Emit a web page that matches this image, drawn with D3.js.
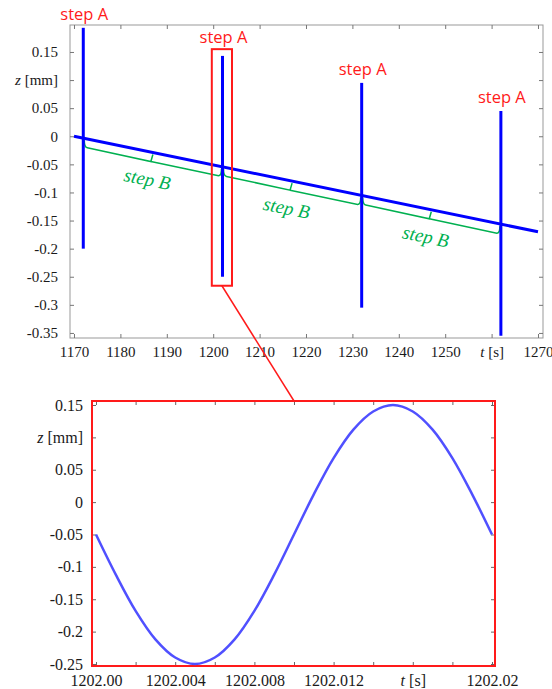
<!DOCTYPE html>
<html>
<head>
<meta charset="utf-8">
<script src="https://cdn.jsdelivr.net/npm/d3@7"></script>
<style>
  body { margin: 0; background: #fff; }
  svg { display: block; }
</style>
</head>
<body>
<div id="chart"></div>
<script>
// drift line (top chart)
const driftT = [1170, 1270];
const driftZ = [0, -0.17];

// step A spikes
const stepATimes = [1172, 1202, 1232, 1262];
const stepATop = [0.193, 0.143, 0.095, 0.045];
const stepABottom = [-0.2, -0.25, -0.305, -0.355];

// zoom box around second spike
const zoomBoxT = [1199.7, 1204.05];
const zoomBoxZ = [0.155, -0.266];

// tick values / labels, top chart
const topXTicks = [1170, 1180, 1190, 1200, 1210, 1220, 1230, 1240, 1250, 1260, 1270];
const topXLabels = ['1170', '1180', '1190', '1200', '1210', '1220', '1230', '1240', '1250', 't|[s]', '1270'];
const topYTicks = [0.15, 0.1, 0.05, 0, -0.05, -0.1, -0.15, -0.2, -0.25, -0.3, -0.35];
const topYLabels = ['0.15', 'z|[mm]', '0.05', '0', '-0.05', '-0.1', '-0.15', '-0.2', '-0.25', '-0.3', '-0.35'];

// zoomed curve (bottom chart)
const zoomT = [1202.000, 1202.001, 1202.002, 1202.003, 1202.004, 1202.005, 1202.006, 1202.007,
  1202.008, 1202.009, 1202.010, 1202.011, 1202.012, 1202.013, 1202.014, 1202.015, 1202.016,
  1202.017, 1202.018, 1202.019, 1202.020];
const zoomZ = [-0.05, -0.112, -0.168, -0.212, -0.24, -0.25, -0.24, -0.212, -0.168, -0.112,
  -0.05, 0.012, 0.068, 0.112, 0.14, 0.15, 0.14, 0.112, 0.068, 0.012, -0.05];

const botXTicks = [1202.000, 1202.002, 1202.004, 1202.006, 1202.008, 1202.010, 1202.012,
  1202.014, 1202.016, 1202.018, 1202.020];
const botXLabels = ['1202.00', '', '1202.004', '', '1202.008', '', '1202.012', '', 't|[s]', '', '1202.02'];
const botYTicks = [0.15, 0.1, 0.05, 0, -0.05, -0.1, -0.15, -0.2, -0.25];
const botYLabels = ['0.15', 'z|[mm]', '0.05', '0', '-0.05', '-0.1', '-0.15', '-0.2', '-0.25'];

const W = 552, H = 689;
const serif = '"Liberation Serif", "Times New Roman", serif';
const sans = '"Open Sans", "Noto Sans", sans-serif';
const blue = '#0000ff';
const red = '#ff1a1a';
const green = '#00b050';

const svg = d3.select('#chart').append('svg').attr('width', W).attr('height', H);

// label with italic variable name, e.g. "z|[mm]"
function fancyLabel(sel, labels) {
  sel.each(function(d, i) {
    const lab = labels[i];
    const t = d3.select(this);
    if (lab.indexOf('|') < 0) { t.text(lab); return; }
    const parts = lab.split('|');
    t.text(null);
    t.append('tspan').style('font-style', 'italic').text(parts[0]);
    t.append('tspan').text(' ' + parts[1]);
  });
}

function styleAxis(g, tickColor, size) {
  g.attr('font-family', null).attr('font-size', null);
  g.select('.domain').remove();
  g.selectAll('.tick line').attr('stroke', tickColor);
  g.selectAll('.tick text')
    .attr('fill', '#1a1a1a')
    .style('font-family', serif)
    .style('font-size', size + 'px');
}

// ---------- top chart ----------
const box1 = { left: 70, top: 25, right: 543, bottom: 338 };
const x1 = d3.scaleLinear().domain([1169.138, 1271.078]).range([box1.left, box1.right]);
const y1 = d3.scaleLinear().domain([0.198, -0.359]).range([box1.top, box1.bottom]);

const g1 = svg.append('g');

g1.append('rect')
  .attr('x', box1.left).attr('y', box1.top)
  .attr('width', box1.right - box1.left).attr('height', box1.bottom - box1.top)
  .attr('fill', 'none').attr('stroke', '#999').attr('stroke-width', 1);

g1.append('g')
  .attr('transform', `translate(0,${box1.bottom})`)
  .call(d3.axisBottom(x1).tickValues(topXTicks).tickSizeInner(-4).tickSizeOuter(0).tickPadding(8))
  .call(g => styleAxis(g, '#777', 15))
  .call(g => fancyLabel(g.selectAll('.tick text'), topXLabels));

g1.append('g')
  .attr('transform', `translate(0,${box1.top})`)
  .call(d3.axisTop(x1).tickValues(topXTicks).tickSizeInner(-4).tickSizeOuter(0).tickFormat(''))
  .call(g => styleAxis(g, '#777', 15));

g1.append('g')
  .attr('transform', `translate(${box1.left},0)`)
  .call(d3.axisLeft(y1).tickValues(topYTicks).tickSizeInner(-4).tickSizeOuter(0).tickPadding(12))
  .call(g => styleAxis(g, '#777', 15))
  .call(g => fancyLabel(g.selectAll('.tick text'), topYLabels));

g1.append('g')
  .attr('transform', `translate(${box1.right},0)`)
  .call(d3.axisRight(y1).tickValues(topYTicks).tickSizeInner(-4).tickSizeOuter(0).tickFormat(''))
  .call(g => styleAxis(g, '#777', 15));

// drift line
const driftAt = d3.scaleLinear().domain(driftT).range(driftZ);

// step B braces (between successive step A spikes)
const off = 9;
const ang = Math.atan2(y1(driftZ[1]) - y1(driftZ[0]), x1(driftT[1]) - x1(driftT[0]));
const stepBPairs = d3.pairs(stepATimes);

stepBPairs.forEach(([ta, tb]) => {
  const xa = x1(ta), ya = y1(driftAt(ta));
  const xb = x1(tb), yb = y1(driftAt(tb));
  const tm = (ta + tb) / 2;
  const xm = x1(tm), ym = y1(driftAt(tm));
  const p = d3.path();
  p.moveTo(xa + 1, ya + 2);
  p.quadraticCurveTo(xa + 1, ya + off, xa + 4, ya + off + 0.6);
  p.lineTo(xm - 2, ym + off);
  p.lineTo(xm, ym + off - 7);
  p.moveTo(xm - 2, ym + off);
  p.lineTo(xb - 4, yb + off);
  p.quadraticCurveTo(xb - 1, yb + off, xb - 1, yb + 2);
  g1.append('path').attr('d', p.toString())
    .attr('fill', 'none').attr('stroke', green).attr('stroke-width', 1.5);

  const d = 27;
  const lx = xm - Math.sin(ang) * d;
  const ly = ym + Math.cos(ang) * d;
  g1.append('text')
    .attr('transform', `translate(${lx},${ly}) rotate(${ang * 180 / Math.PI})`)
    .attr('text-anchor', 'middle').attr('dy', '0.35em')
    .style('font-family', serif).style('font-style', 'italic')
    .style('font-size', '19px').attr('fill', green)
    .text('step B');
});

g1.append('line')
  .attr('x1', x1(driftT[0])).attr('y1', y1(driftZ[0]))
  .attr('x2', x1(driftT[1])).attr('y2', y1(driftZ[1]))
  .attr('stroke', blue).attr('stroke-width', 3);

// step A spikes
g1.selectAll('.spike')
  .data(stepATimes)
  .enter()
  .append('line')
  .attr('class', 'spike')
  .attr('x1', d => x1(d)).attr('x2', d => x1(d))
  .attr('y1', (d, i) => y1(stepATop[i]))
  .attr('y2', (d, i) => y1(stepABottom[i]))
  .attr('stroke', blue).attr('stroke-width', 3);

// zoom box
g1.append('rect')
  .attr('x', x1(zoomBoxT[0])).attr('y', y1(zoomBoxZ[0]))
  .attr('width', x1(zoomBoxT[1]) - x1(zoomBoxT[0]))
  .attr('height', y1(zoomBoxZ[1]) - y1(zoomBoxZ[0]))
  .attr('fill', 'none').attr('stroke', red).attr('stroke-width', 2);

// step A labels
g1.selectAll('.stepA')
  .data(stepATimes)
  .enter()
  .append('text')
  .attr('class', 'stepA')
  .attr('x', d => x1(d) + 1)
  .attr('y', (d, i) => {
    const topY = (d > zoomBoxT[0] && d < zoomBoxT[1]) ? y1(zoomBoxZ[0]) + 2 : y1(stepATop[i]);
    return topY - 8;
  })
  .attr('text-anchor', 'middle')
  .style('font-family', sans).style('font-size', '16.5px').attr('fill', red)
  .text('step A');

// ---------- bottom chart ----------
const box2 = { left: 92, top: 401, right: 495, bottom: 666 };
const x2 = d3.scaleLinear().domain([1201.999798, 1202.020152]).range([box2.left, box2.right]);
const y2 = d3.scaleLinear().domain([0.15618, -0.2531]).range([box2.top, box2.bottom]);

// connector from zoom box to bottom chart
svg.append('line')
  .attr('x1', x1((zoomBoxT[0] + zoomBoxT[1]) / 2)).attr('y1', y1(zoomBoxZ[1]))
  .attr('x2', x2((zoomT[0] + zoomT[zoomT.length - 1]) / 2)).attr('y2', box2.top)
  .attr('stroke', red).attr('stroke-width', 1.5);

const g2 = svg.append('g');

g2.append('g')
  .attr('transform', `translate(0,${box2.bottom})`)
  .call(d3.axisBottom(x2).tickValues(botXTicks).tickSizeInner(-4).tickSizeOuter(0).tickPadding(9))
  .call(g => styleAxis(g, '#666', 16))
  .call(g => fancyLabel(g.selectAll('.tick text'), botXLabels));

g2.append('g')
  .attr('transform', `translate(0,${box2.top})`)
  .call(d3.axisTop(x2).tickValues(botXTicks).tickSizeInner(-4).tickSizeOuter(0).tickFormat(''))
  .call(g => styleAxis(g, '#666', 16));

g2.append('g')
  .attr('transform', `translate(${box2.left},0)`)
  .call(d3.axisLeft(y2).tickValues(botYTicks).tickSizeInner(-4).tickSizeOuter(0).tickPadding(9))
  .call(g => styleAxis(g, '#666', 16))
  .call(g => fancyLabel(g.selectAll('.tick text'), botYLabels));

g2.append('g')
  .attr('transform', `translate(${box2.right},0)`)
  .call(d3.axisRight(y2).tickValues(botYTicks).tickSizeInner(-4).tickSizeOuter(0).tickFormat(''))
  .call(g => styleAxis(g, '#666', 16));

g2.append('rect')
  .attr('x', box2.left).attr('y', box2.top)
  .attr('width', box2.right - box2.left).attr('height', box2.bottom - box2.top)
  .attr('fill', 'none').attr('stroke', red).attr('stroke-width', 2);

const line2 = d3.line()
  .x((d, i) => x2(zoomT[i]))
  .y(d => y2(d))
  .curve(d3.curveCatmullRom);

g2.append('path')
  .datum(zoomZ)
  .attr('d', line2)
  .attr('fill', 'none')
  .attr('stroke', '#5050ff')
  .attr('stroke-width', 2.5);
</script>
</body>
</html>
